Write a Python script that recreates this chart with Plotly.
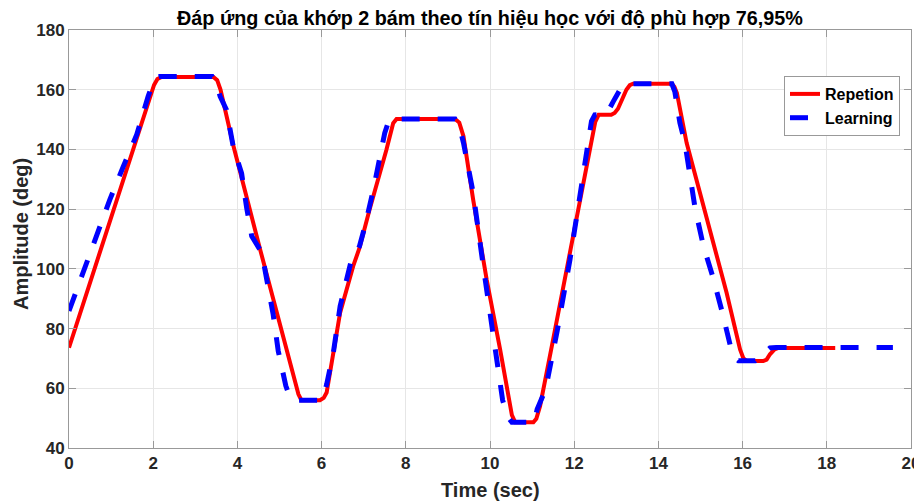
import plotly.graph_objects as go

# Repetion (red, solid)
t_rep = [0, 2.02, 2.1, 2.2, 3.43, 3.52, 3.6, 3.9, 4.54, 5.33, 5.45, 5.52, 5.96, 6.05, 6.12,
         6.44, 6.75, 6.9, 7.14, 7.54, 7.7, 7.78, 9.17, 9.27, 9.37, 9.6, 9.92, 10.24, 10.52,
         10.6, 11.03, 11.1, 11.19, 11.5, 12.0, 12.5, 12.58, 12.88, 12.96, 13.04, 13.24, 13.32,
         13.4, 14.32, 14.38, 14.44, 14.67, 15.15, 15.62, 15.94, 16.02, 16.1, 16.49, 16.57,
         16.65, 16.76, 16.85, 18.2]
y_rep = [73.6, 161.6, 163.6, 164.3, 164.3, 163.2, 160, 141.5, 106.5, 64.1, 58, 56, 56, 56.8, 58.6,
         85.3, 100.9, 107, 119.9, 139.9, 148.8, 150.2, 150.2, 149, 144.4, 123.2, 96.5, 73, 51,
         48.6, 48.6, 49.8, 54.1, 76.4, 113.2, 149.2, 151.6, 151.6, 152.2, 153.6, 160, 161.5,
         162, 162, 161, 158.9, 142.2, 116.5, 92, 73, 70, 69.1, 69.1, 69.6, 71.4, 73, 73.5, 73.5]

# Learning (blue, dashed)
t_lrn = [0, 0.30, 0.615, 0.97, 1.29, 1.61, 1.88, 2.0, 2.08, 2.15, 3.4, 3.5, 3.59, 3.74, 3.9,
         4.1, 4.22, 4.34, 4.58, 4.69, 4.85, 4.97, 5.15, 5.25, 5.32, 5.96, 6.04, 6.12, 6.28,
         6.44, 6.71, 6.9, 7.03, 7.23, 7.39, 7.5, 7.59, 7.66, 9.17, 9.27, 9.37, 9.6, 9.84,
         10.08, 10.3, 10.42, 10.52, 11.05, 11.12, 11.32, 11.6, 11.9, 12.06, 12.18, 12.33,
         12.41, 12.49, 12.77, 12.93, 13.13, 13.22, 14.32, 14.39, 14.43, 14.51, 14.63, 14.73,
         14.87, 15.07, 15.3, 15.52, 15.72, 15.82, 15.9, 16.3, 16.41, 16.53, 16.65, 16.8, 19.57]
y_lrn = [85.9, 97.6, 109.8, 123.2, 134.3, 145, 157.8, 162.5, 164.1, 164.4, 164.4, 162, 157.8, 153.3, 141,
         132, 120.4, 111, 105.4, 97, 84.7, 72.5, 60.8, 57, 56, 56, 56.8, 61.3, 72,
         87.5, 103.1, 107.6, 114.3, 126.6, 138.2, 145.5, 149.4, 150.2, 150.2, 148, 142.2, 125.5, 100.9,
         77.5, 56, 50.5, 48.6, 48.6, 53, 59.6, 79.5, 103.1, 117.6, 131, 143.3,
         149.4, 151.6, 151.9, 156.1, 161.1, 162, 162, 159.4, 155.5, 148.9, 142.2, 133,
         120.4, 107.6, 97, 85.3, 73.6, 70, 69.2, 69.2, 70.3, 72, 73.5, 73.7, 73.7]

x_ticks = [0, 2, 4, 6, 8, 10, 12, 14, 16, 18, 20]
y_ticks = [40, 60, 80, 100, 120, 140, 160, 180]

FONT = "Liberation Sans, Arial, sans-serif"
OFF = 8                      # page body margin of the html (top/left)
W, H = 922 - OFF, 504 - OFF  # figure size so that it fits the window
L, R, T, B = 69 - OFF, 11, 30 - OFF, 56
PW, PH = W - L - R, H - T - B


def px_x(page_x):
    return (page_x - OFF - L) / PW


def px_y(page_y):
    return (H - B - (page_y - OFF)) / PH


fig = go.Figure()
fig.add_trace(go.Scatter(x=t_rep, y=y_rep, mode="lines", name="<b>Repetion</b>",
                         line=dict(color="#ff0000", width=4)))
fig.add_trace(go.Scatter(x=t_lrn, y=y_lrn, mode="lines", name="<b>Learning</b>",
                         line=dict(color="#0000ff", width=5, dash="18px,18px")))

axis_common = dict(
    showline=True, linecolor="#999999", linewidth=1, mirror="ticks",
    ticks="inside", ticklen=7, tickcolor="#999999", tickwidth=1,
    showgrid=True, gridcolor="#e6e6e6", gridwidth=1, zeroline=False,
    automargin=False,
    tickfont=dict(family=FONT, size=17, color="#262626", weight="bold"),
)

fig.update_layout(
    width=W, height=H,
    margin=dict(l=L, r=R, t=T, b=B, autoexpand=False),
    paper_bgcolor="white", plot_bgcolor="white",
    title=dict(text="<b>Đáp ứng của khớp 2 bám theo tín hiệu học với độ phù hợp 76,95%</b>",
               x=(L + PW / 2) / W, xanchor="center", y=1 - (18.5 - OFF) / H, yanchor="middle",
               yref="container",
               font=dict(family=FONT, size=19.8, color="#000000")),
    xaxis=dict(range=[0, 20], tickvals=x_ticks, ticktext=[str(v) for v in x_ticks],
               **axis_common),
    yaxis=dict(range=[40, 180], tickvals=y_ticks, ticktext=[str(v) for v in y_ticks],
               **axis_common),
    legend=dict(x=px_x(900), y=px_y(106),
                xanchor="right", yanchor="middle",
                bgcolor="white", bordercolor="#999999", borderwidth=1,
                font=dict(family=FONT, size=16, color="#000000"),
                tracegroupgap=0, itemwidth=30),
    showlegend=True,
    annotations=[
        dict(text="<b>Time (sec)</b>", xref="paper", yref="paper",
             x=0.5, y=px_y(490), xanchor="center", yanchor="middle",
             showarrow=False, font=dict(family=FONT, size=20, color="#262626")),
        dict(text="<b>Amplitude (deg)</b>", xref="paper", yref="paper",
             x=px_x(21), y=px_y(234), xanchor="center", yanchor="middle",
             textangle=-90, showarrow=False,
             font=dict(family=FONT, size=20, color="#262626")),
    ],
)

fig.write_html("out.html")
